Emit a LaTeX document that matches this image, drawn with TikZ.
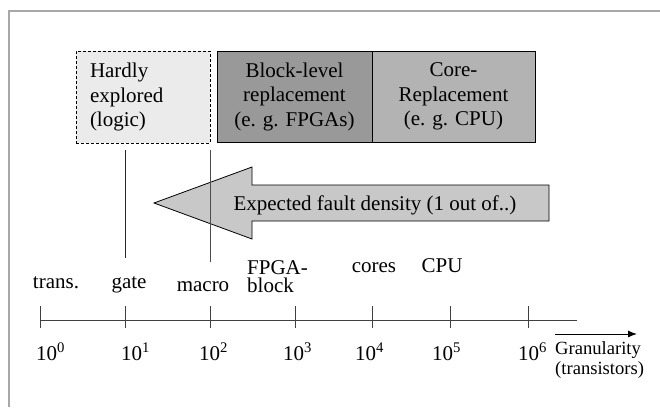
\documentclass[tikz,border=0pt]{standalone}
\usepackage{fontspec}
\setmainfont{Liberation Serif}
\usetikzlibrary{arrows.meta}
\definecolor{hardfill}{HTML}{EBEBEB}
\definecolor{blockfill}{HTML}{999999}
\definecolor{corefill}{HTML}{B3B3B3}
\definecolor{arrowfill}{HTML}{C8C8C8}
\definecolor{framegray}{HTML}{A8A8A8}
\begin{document}
\begin{tikzpicture}[x=1pt,y=-1pt,
  txt/.style={font=\fontsize{21}{24.5}\selectfont, inner sep=0pt},
  small/.style={font=\fontsize{18.6}{20}\selectfont, inner sep=0pt},
  box/.style={draw=black, line width=1pt, inner sep=0pt, align=center,
              font=\fontsize{21}{24.5}\selectfont, minimum height=91pt},
  guide/.style={line width=0.9pt, black!85},
  axisline/.style={line width=1pt, black!75}]
\useasboundingbox (0,0) rectangle (660,407);

% outer frame (only top and left edges are visible)
\draw[framegray, line width=1.3pt] (9,407) -- (9,11) -- (660,11);

% replacement strategies
\node[box, dashed, dash pattern=on 3pt off 2pt, fill=hardfill, minimum width=134pt,
      minimum height=92pt, text width=106pt, align=left] (hardly) at (143,97)
      {Hardly\\explored\\(logic)};
\node[box, fill=blockfill, minimum width=155pt] (block) at (294.5,96.5)
      {Block-level\\replacement\\(e. g. FPGAs)};
\node[box, fill=corefill, minimum width=163pt] (core) at (453.5,96.5)
      {Core-\\Replacement\\(e. g. CPU)};

% fault density arrow
\draw[fill=arrowfill, line width=0.8pt]
  (154,203) -- (252,167) -- (252,185) -- (549,185) -- (549,221)
  -- (252,221) -- (252,239) -- cycle;
\node[txt, anchor=base] (density) at (375,210) {Expected fault density (1 out of..)};

% boundaries of the unexplored region
\coordinate (gatetop) at (125,150);
\coordinate (gatebot) at (125,258);
\coordinate (macrotop) at (210,150);
\coordinate (macrobot) at (210,262);
\draw[guide] (gatetop) -- (gatebot);
\draw[guide, black!70] (macrotop) -- (macrobot);

% granularity axis
\coordinate (axstart) at (40,320);
\coordinate (axend) at (577,320);
\draw[axisline] (axstart) -- (axend);
\foreach \t in {40,125,210,295,372,450,528}
  \draw[axisline] (\t,306) -- (\t,328);

% level names
\node[txt, anchor=base] (trans) at (56,288) {trans.};
\node[txt, anchor=base] (gate) at (129,288) {gate};
\node[txt, anchor=base] (macro) at (203,291) {macro};
\node[txt, anchor=north west, align=left, font=\fontsize{21}{18.5}\selectfont]
      (fpga) at (247,260) {FPGA-\\block};
\node[txt, anchor=base] (cores) at (374,272) {cores};
\node[txt, anchor=base] (cpu) at (442,272) {CPU};

% powers of ten
\node[txt, anchor=base west] (e0) at (36,360) {10\textsuperscript{0}};
\node[txt, anchor=base west] (e1) at (121,360) {10\textsuperscript{1}};
\node[txt, anchor=base west] (e2) at (199,360) {10\textsuperscript{2}};
\node[txt, anchor=base west] (e3) at (283,360) {10\textsuperscript{3}};
\node[txt, anchor=base west] (e4) at (355,360) {10\textsuperscript{4}};
\node[txt, anchor=base west] (e5) at (432,360) {10\textsuperscript{5}};
\node[txt, anchor=base west] (e6) at (518,360) {10\textsuperscript{6}};

% axis direction
\coordinate (granstart) at (555,334);
\coordinate (granend) at (637,334);
\draw[line width=1pt, -{Latex[length=9pt,width=7pt]}] (granstart) -- (granend);
\node[small, anchor=north west, align=left] (granularity) at (555,341)
      {Granularity\\(transistors)};
\end{tikzpicture}
\end{document}
